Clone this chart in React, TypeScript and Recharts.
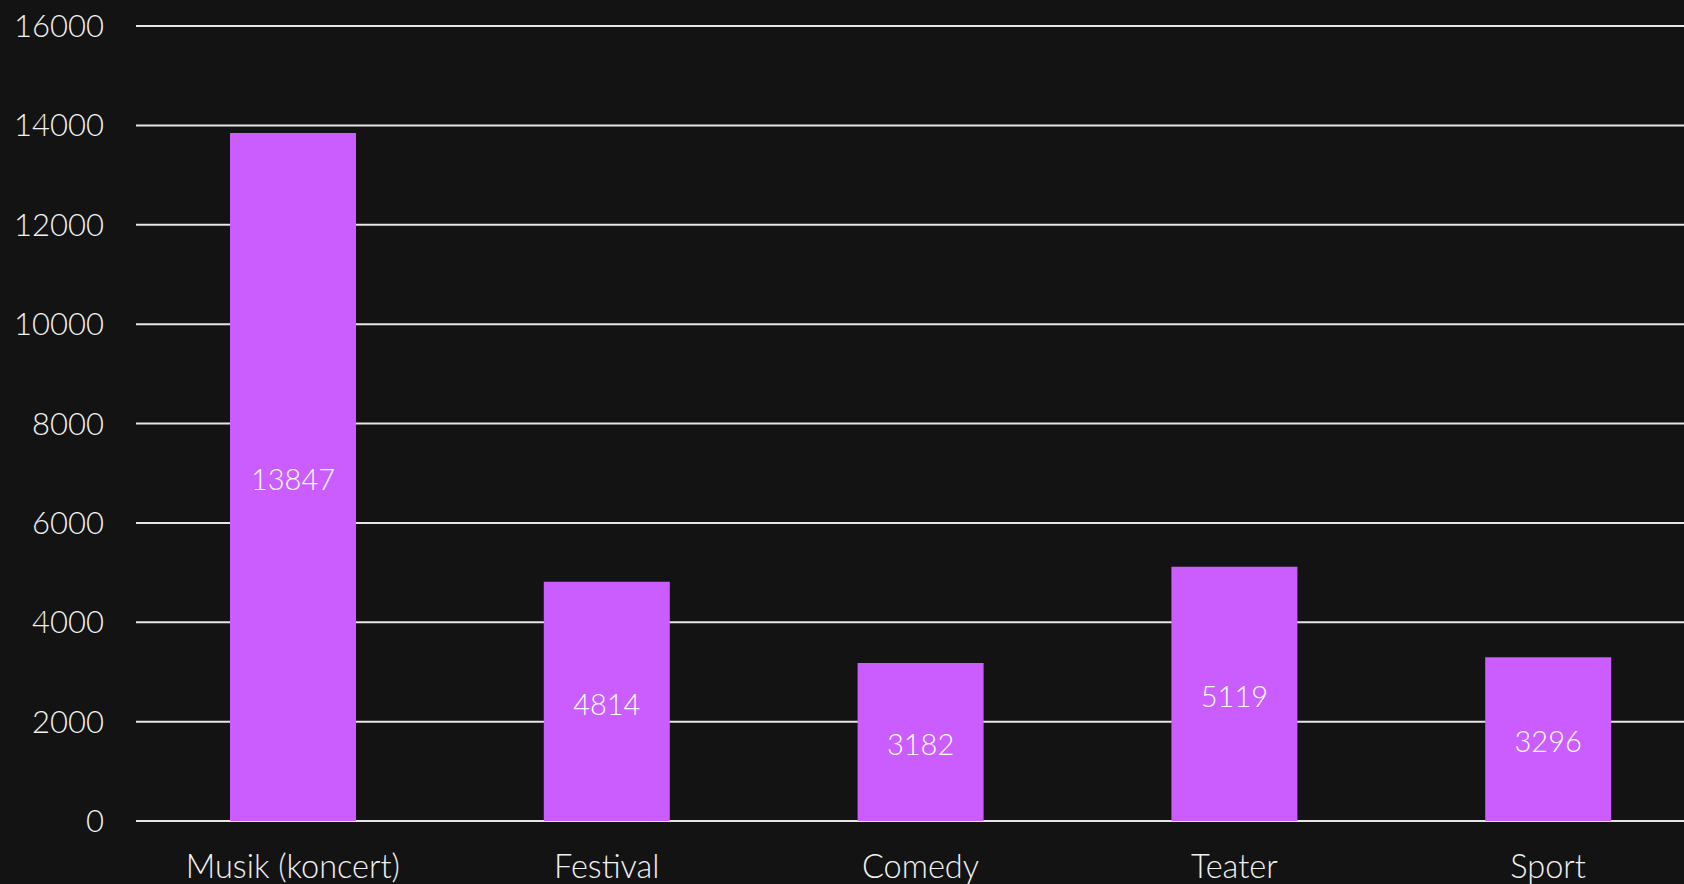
import { BarChart, Bar, XAxis, YAxis, CartesianGrid, LabelList } from "recharts";

const categories = ["Musik (koncert)", "Festival", "Comedy", "Teater", "Sport"];
const counts = [13847, 4814, 3182, 5119, 3296];
const yTicks = [0, 2000, 4000, 6000, 8000, 10000, 12000, 14000, 16000];

const data = categories.map((name, i) => ({ name, count: counts[i] }));

const FONT = "Lato, 'Open Sans', sans-serif";

export default function App() {
  return (
    <div
      style={{
        position: "fixed",
        left: 0,
        top: 0,
        width: 1684,
        height: 884,
        background: "#131313",
        overflow: "hidden",
        fontFamily: FONT,
      }}
    >
      <BarChart
        width={1720}
        height={884}
        data={data}
        margin={{ top: 26, right: 15, left: 0, bottom: 0 }}
      >
        <CartesianGrid vertical={false} stroke="#e6e6e6" strokeWidth={2} />
        <XAxis
          dataKey="name"
          height={63}
          axisLine={false}
          tickLine={false}
          tickSize={0}
          tickMargin={34}
          interval={0}
          tick={{ fill: "#f2f2f2", fontSize: 32.5, fontWeight: 300, fontFamily: FONT }}
        />
        <YAxis
          width={136}
          domain={[0, 16000]}
          ticks={yTicks}
          axisLine={false}
          tickLine={false}
          tickSize={0}
          tickMargin={32}
          tick={{ fill: "#f2f2f2", fontSize: 31, fontWeight: 300, fontFamily: FONT }}
        />
        <Bar dataKey="count" fill="#cb5dff" barSize={126} isAnimationActive={false}>
          <LabelList
            dataKey="count"
            position="center"
            fill="#ffffff"
            fontSize={29}
            fontWeight={300}
            fontFamily={FONT}
            dy={3}
          />
        </Bar>
      </BarChart>
    </div>
  );
}
